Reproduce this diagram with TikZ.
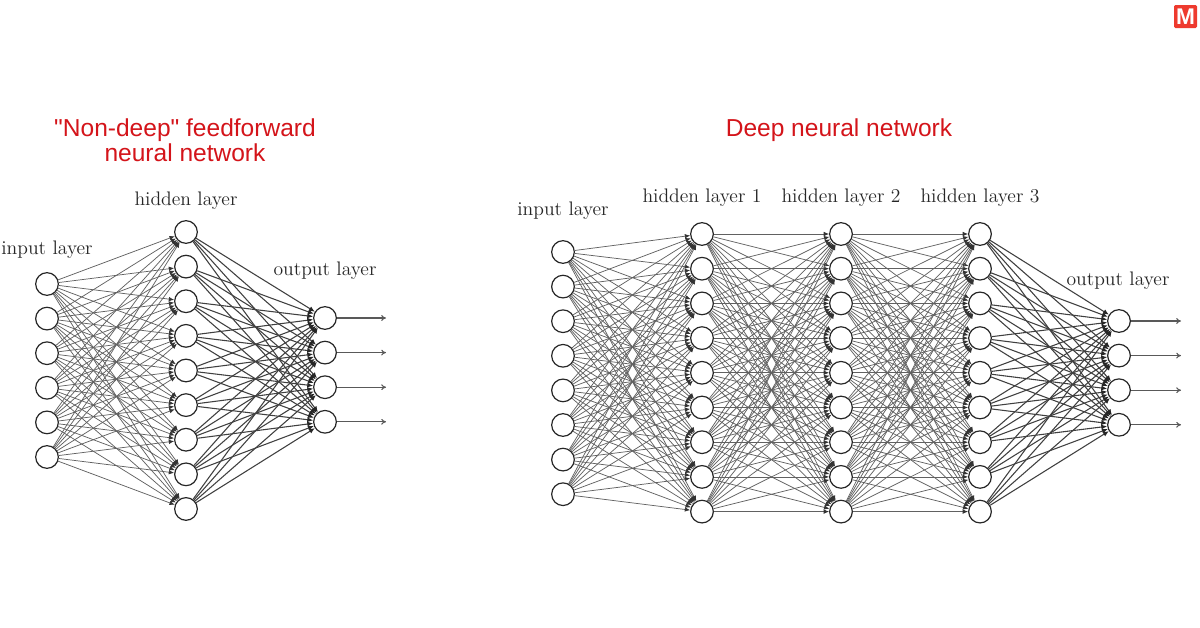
\documentclass[tikz,border=0pt]{standalone}
\usepackage{fontspec}
\usetikzlibrary{arrows.meta}
\newfontfamily\titlefont{Liberation Sans}
\definecolor{titlered}{HTML}{D4141A}
\definecolor{logored}{HTML}{EE3A2E}
\tikzset{
  neuron/.style={circle,draw=black!85,line width=0.9pt,fill=white,minimum size=17pt,inner sep=0pt},
  link/.style={draw=black!62,line width=0.55pt,-{Latex[length=4pt,width=3.4pt,black!80]}},
  boldlink/.style={draw=black!75,line width=0.8pt,-{Latex[length=4.4pt,width=3.8pt,black!85]}},
  outlink/.style={draw=black!65,line width=0.8pt,-{To[length=3.6pt,width=4.4pt]}},
  layerlabel/.style={font=\fontsize{14.7}{16}\selectfont,text=black!85,inner sep=0pt},
  nettitle/.style={font=\titlefont\fontsize{18.4}{18.75}\selectfont,text=titlered,align=center,inner sep=0pt},
}
\begin{document}
\begin{tikzpicture}[x=0.75pt,y=-0.75pt]
\useasboundingbox (0,0) rectangle (1200,628);
\fill[white] (0,0) rectangle (1200,628);
% logo
\fill[logored,rounded corners=1pt] (1174,5) rectangle (1197,28);
\node[inner sep=0pt,text=white,font=\titlefont\bfseries\fontsize{17}{17}\selectfont] (logo) at (1185.5,17) {M};
% left network
\foreach \i in {1,...,6}
  \node[neuron] (la\i) at (47,{284+(\i-1)*34.6}) {};
\foreach \i in {1,...,9}
  \node[neuron] (lb\i) at (186,{232+(\i-1)*34.62}) {};
\foreach \i in {1,...,4} {
  \node[neuron] (lc\i) at (325,{318+(\i-1)*34.6}) {};
  \coordinate (lo\i) at (386,{318+(\i-1)*34.6});
}
\foreach \i in {1,...,6} \foreach \j in {1,...,9} \draw[link] (la\i) -- (lb\j);
\foreach \i in {1,...,9} \foreach \j in {1,...,4} \draw[boldlink] (lb\i) -- (lc\j);
\foreach \i in {1,...,4} \draw[outlink] (lc\i) -- (lo\i);
% right network
\foreach \i in {1,...,8}
  \node[neuron] (ra\i) at (563,{252+(\i-1)*34.6}) {};
\foreach \i in {1,...,9} {
  \node[neuron] (rb\i) at (702,{234+(\i-1)*34.7}) {};
  \node[neuron] (rc\i) at (841,{234+(\i-1)*34.7}) {};
  \node[neuron] (rd\i) at (980,{234+(\i-1)*34.7}) {};
}
\foreach \i in {1,...,4} {
  \node[neuron] (re\i) at (1119,{321+(\i-1)*34.6}) {};
  \coordinate (ro\i) at (1181,{321+(\i-1)*34.6});
}
\foreach \i in {1,...,8} \foreach \j in {1,...,9} \draw[link] (ra\i) -- (rb\j);
\foreach \i in {1,...,9} \foreach \j in {1,...,9} \draw[link] (rb\i) -- (rc\j);
\foreach \i in {1,...,9} \foreach \j in {1,...,9} \draw[link] (rc\i) -- (rd\j);
\foreach \i in {1,...,9} \foreach \j in {1,...,4} \draw[boldlink] (rd\i) -- (re\j);
\foreach \i in {1,...,4} \draw[outlink] (re\i) -- (ro\i);
% labels
\node[layerlabel] (t1) at (47,250) {input layer};
\node[layerlabel] (t2) at (186,201) {hidden layer};
\node[layerlabel] (t3) at (325,271) {output layer};
\node[layerlabel] (t4) at (563,211) {input layer};
\node[layerlabel] (t5) at (702,197.5) {hidden layer 1};
\node[layerlabel] (t6) at (841,197.5) {hidden layer 2};
\node[layerlabel] (t7) at (980,197.5) {hidden layer 3};
\node[layerlabel] (t8) at (1118,281) {output layer};
\node[nettitle] (h1) at (185,140) {"Non-deep" feedforward\\neural network};
\node[nettitle] (h2) at (839,130) {Deep neural network};
\end{tikzpicture}
\end{document}
